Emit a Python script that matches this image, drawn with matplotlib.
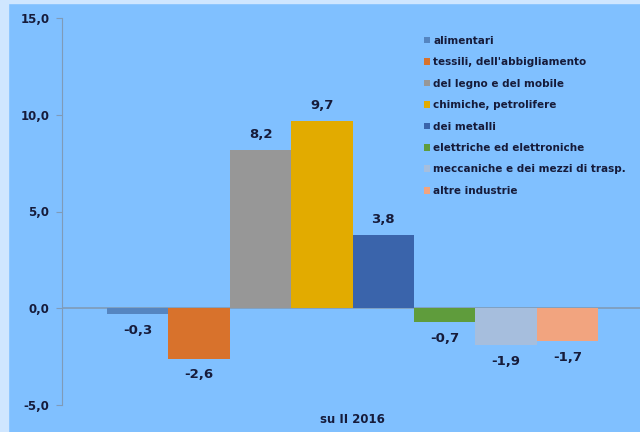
import matplotlib
matplotlib.use("Agg")
import matplotlib.pyplot as plt
from matplotlib.patches import Rectangle

categories = ["alimentari", "tessili, dell'abbigliamento", "del legno e del mobile",
              "chimiche, petrolifere", "dei metalli", "elettriche ed elettroniche",
              "meccaniche e dei mezzi di trasp.", "altre industrie"]
values = [-0.3, -2.6, 8.2, 9.7, 3.8, -0.7, -1.9, -1.7]
colors = ["#5585c0", "#d8722c", "#979797", "#e2ab00", "#3a64ab", "#5f9c3c", "#a6bedd", "#f2a47f"]
yticks = [-5, 0, 5, 10, 15]
xlabel = "su II 2016"

bg = "#80c0ff"
txt = "#161b3a"

fig = plt.figure(figsize=(6.4, 4.32), dpi=100, facecolor=bg)
# lighter frame strips on left and top
fig.patches.append(Rectangle((0, 0), 8 / 640, 1, transform=fig.transFigure, color="#cfe6ff", zorder=0))
fig.patches.append(Rectangle((0, 1 - 3 / 432), 1, 3 / 432, transform=fig.transFigure, color="#cfe6ff", zorder=0))

ax = fig.add_axes([62 / 640, 1 - 405 / 432, 1 - 62 / 640, (405 - 18) / 432])
ax.set_facecolor(bg)

x = list(range(len(values)))
bars = ax.bar(x, values, width=1.0, color=colors, label=categories, zorder=2)

for xi, v in zip(x, values):
    lab = f"{v:.1f}".replace(".", ",")
    if v >= 0:
        ax.annotate(lab, (xi, v), xytext=(0, 6), textcoords="offset points",
                    ha="center", va="bottom", fontsize=9.5, fontweight="bold", color=txt)
    else:
        ax.annotate(lab, (xi, v), xytext=(0, -7), textcoords="offset points",
                    ha="center", va="top", fontsize=9.5, fontweight="bold", color=txt)

ax.set_ylim(-5, 15)
ax.set_xlim(-1.233, 8.18)
ax.set_yticks(yticks)
ax.set_yticklabels([f"{t:.1f}".replace(".", ",") for t in yticks],
                   fontsize=8.5, fontweight="bold", color=txt)
ax.tick_params(axis="y", length=4, color="#7f9bb8", pad=5)
ax.set_xticks([])
ax.axhline(0, color="#7f9bb8", lw=1.2, zorder=1)

for s in ["top", "right", "bottom"]:
    ax.spines[s].set_visible(False)
ax.spines["left"].set_color("#7f9bb8")

ax.text(3.5, -5.4, xlabel, ha="center", va="top", fontsize=8.5, fontweight="bold",
        color=txt, transform=ax.transData, clip_on=False)

leg = ax.legend(loc="upper left", bbox_to_anchor=(0.619, 0.965), frameon=False,
                fontsize=7.5, handlelength=0.6, handleheight=0.6, handletextpad=0.3,
                labelspacing=1.1, borderaxespad=0)
for t in leg.get_texts():
    t.set_color(txt)
    t.set_fontweight("bold")

fig.savefig("out.png", dpi=100, facecolor=bg)
